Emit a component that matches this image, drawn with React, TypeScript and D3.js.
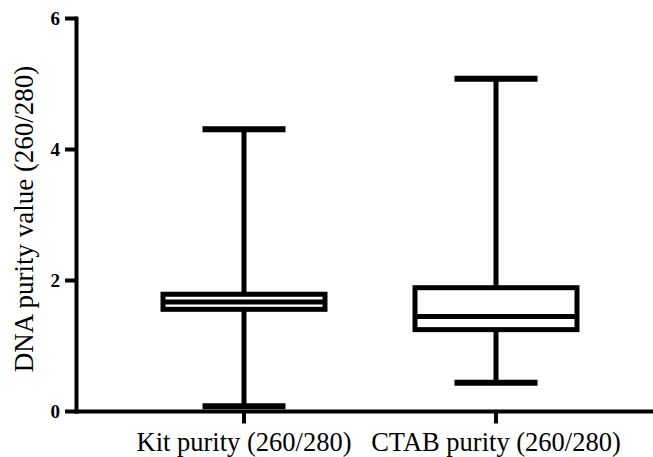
import React from "react";
import * as d3 from "d3";

const categories = ["Kit purity (260/280)", "CTAB purity (260/280)"];
const minValues = [0.08, 0.44];
const q1Values = [1.56, 1.25];
const medianValues = [1.67, 1.45];
const q3Values = [1.79, 1.89];
const maxValues = [4.31, 5.08];
const yTicks = [0, 2, 4, 6];
const yLabel = "DNA purity value (260/280)";

const W = 653;
const H = 457;

export default function App() {
  const y = d3.scaleLinear().domain([0, 6]).range([411.5, 18.5]);
  const x = d3.scalePoint<string>().domain(categories).range([244, 496]);
  const axisX = 76.5;
  const axisY = y(0);
  const boxHalf = 81;
  const capHalf = 41.5;
  const sw = 5;
  const font = "Liberation Serif";

  return (
    <svg width={W} height={H} style={{ position: "absolute", left: 0, top: 0 }}>
      <rect width={W} height={H} fill="#fff" />
      {/* y axis */}
      <line x1={axisX} x2={axisX} y1={y(6) - 2} y2={axisY + 2} stroke="#000" strokeWidth={4} />
      {yTicks.map((t) => (
        <g key={t}>
          <line x1={65} x2={axisX} y1={y(t)} y2={y(t)} stroke="#000" strokeWidth={4} />
          <text
            x={60}
            y={y(t) + 6.5}
            textAnchor="end"
            fontFamily={font}
            fontWeight={700}
            fontSize="19px"
          >
            {String(t)}
          </text>
        </g>
      ))}
      <text
        transform={`translate(33, 219) rotate(-90)`}
        textAnchor="middle"
        fontFamily={font}
        fontSize="27px"
      >
        {yLabel}
      </text>
      {/* x axis */}
      <line x1={axisX - 2} x2={W} y1={axisY} y2={axisY} stroke="#000" strokeWidth={4} />
      {categories.map((c) => (
        <g key={c}>
          <line x1={x(c)} x2={x(c)} y1={axisY} y2={axisY + 12} stroke="#000" strokeWidth={4} />
          <text x={x(c)} y={451} textAnchor="middle" fontFamily={font} fontSize="26.5px">
            {c}
          </text>
        </g>
      ))}
      {/* boxes */}
      {categories.map((c, i) => {
        const cx = x(c)!;
        return (
          <g key={"b" + c} stroke="#000" strokeWidth={sw} fill="none">
            <line x1={cx} x2={cx} y1={y(maxValues[i])} y2={y(q3Values[i])} />
            <line x1={cx} x2={cx} y1={y(q1Values[i])} y2={y(minValues[i])} />
            <line x1={cx - capHalf} x2={cx + capHalf} y1={y(maxValues[i])} y2={y(maxValues[i])} strokeWidth={6} />
            <line x1={cx - capHalf} x2={cx + capHalf} y1={y(minValues[i])} y2={y(minValues[i])} strokeWidth={6} />
            <rect
              x={cx - boxHalf}
              y={y(q3Values[i])}
              width={boxHalf * 2}
              height={y(q1Values[i]) - y(q3Values[i])}
              fill="#fff"
            />
            <line x1={cx - boxHalf} x2={cx + boxHalf} y1={y(medianValues[i])} y2={y(medianValues[i])} />
          </g>
        );
      })}
    </svg>
  );
}
